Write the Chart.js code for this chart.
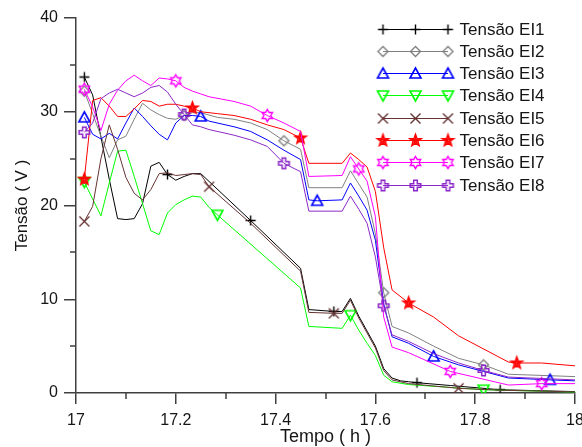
<!DOCTYPE html>
<html>
<head>
<meta charset="utf-8">
<script src="https://cdn.jsdelivr.net/npm/chart.js@4.4.1/dist/chart.umd.min.js"></script>
<style>
  html, body { margin: 0; padding: 0; background: #fff; }
  #chart { display: block; }
</style>
</head>
<body>
<canvas id="chart" width="582" height="447"></canvas>
<script>
// one reading per minute after 17:00
const minutes = [
  1, 2, 3, 4, 5, 6, 7, 8, 9, 10,
  11, 12, 13, 14, 15, 16, 17, 18, 19, 20,
  21, 22, 23, 24, 25, 26, 27, 28, 29, 30,
  31, 32, 33, 34, 35, 36, 37, 38, 39, 40,
  41, 42, 43, 44, 45, 46, 47, 48, 49, 50,
  51, 52, 53, 54, 55, 56, 57, 58, 59, 60
];

const seriesNames = [
  "Tensão EI1", "Tensão EI2", "Tensão EI3", "Tensão EI4",
  "Tensão EI5", "Tensão EI6", "Tensão EI7", "Tensão EI8"
];

// values, null = no bend there (line runs straight across)
const ei1 = [
  33.7, 31.8, 27.3, 22.8, 18.6, 18.5, 18.6, 20.2, 24.2, 24.6,
  23.3, 22.7, 23.1, 23.4, 23.4, null, null, null, null, null,
  18.4, null, null, null, null, null, 13.3, 8.9, null, null,
  8.7, 8.7, 10.1, 8.2, 6.6, 5.0, 2.6, 1.6, 1.3, 1.2,
  1.1, null, null, null, 0.8, null, null, null, null, null,
  0.35, null, null, null, null, null, null, null, null, 0.15
];
const ei2 = [
  32.2, 29.8, 27.4, 25.1, 27.0, 27.4, 29.2, 30.9, 30.2, 29.7,
  29.3, 29.2, 29.6, 29.9, 29.9, null, 29.4, null, 29.2, null,
  28.8, null, 28.1, null, 26.9, null, 26.0, 21.9, null, null,
  null, 21.9, 23.7, 22.3, 20.9, 17.0, 10.7, 7.1, null, 6.4,
  null, null, 5.0, null, null, 3.7, null, null, 3.0, null,
  null, 2.0, null, null, null, null, null, null, null, 1.75
];
const ei3 = [
  29.4, 27.6, 27.1, 27.7, 27.1, 28.8, 30.4, 29.5, 28.5, 27.6,
  27.0, 28.8, 29.6, 29.6, 29.5, 29.0, null, null, 28.4, null,
  27.9, null, 27.0, null, 25.9, null, 24.9, 20.6, 20.5, null,
  null, 20.6, 22.4, 21.0, 19.5, 16.3, 9.5, 6.0, null, 5.3,
  null, null, 3.9, null, null, 3.0, null, null, 2.3, null,
  null, 1.6, null, null, null, null, 1.4, null, null, 1.3
];
const ei4 = [
  22.5, 20.7, 18.9, 22.4, 25.8, 25.9, 23.1, 20.2, 17.3, 16.9,
  19.2, 20.1, 20.6, 21.0, 20.9, 19.8, 19.0, null, null, null,
  null, null, null, null, null, null, 11.2, 7.1, null, null,
  null, 6.9, 8.3, 6.7, 5.3, 4.0, 1.9, 1.2, null, 0.9,
  null, null, null, null, null, null, null, null, 0.35, null,
  null, null, null, null, null, null, null, null, null, 0.1
];
const ei5 = [
  18.3, 19.9, 25.0, 28.6, 26.0, 23.0, 21.3, 20.6, 21.7, 23.4,
  23.5, 23.2, 23.3, 23.4, 23.3, 22.0, null, null, null, null,
  18.1, null, null, null, null, null, 13.0, 8.6, null, null,
  8.5, 8.5, 9.9, 8.0, 6.4, 4.8, 2.4, 1.4, null, 1.0,
  null, null, null, null, null, 0.5, null, null, null, null,
  0.3, null, null, null, null, null, null, null, null, 0.12
];
const ei6 = [
  22.8, 31.2, 31.5, 30.6, 29.5, 29.5, 30.3, 31.2, 31.1, 30.6,
  30.8, 30.8, 30.6, 30.4, 30.0, null, 29.8, null, 29.6, null,
  29.2, null, 28.6, null, 28.1, null, 27.2, 24.5, null, null,
  null, 24.5, 25.6, 24.9, 24.1, 21.5, 15.5, 11.0, null, 9.6,
  null, null, 8.1, null, null, 6.1, null, null, null, null,
  null, 3.3, 3.2, null, null, 3.2, null, null, null, 2.9
];
const ei7 = [
  32.4, 30.5, 28.0, 30.8, 32.3, 33.3, 33.9, 33.3, 32.8, 33.6,
  33.5, 33.3, 32.6, 32.2, 31.9, 31.6, null, null, 31.1, null,
  30.6, null, 29.6, null, 28.8, null, 27.9, 23.1, null, null,
  null, 23.2, 25.2, 23.9, 22.6, 18.8, 8.1, 4.9, null, 4.3,
  null, null, null, null, 2.3, null, null, null, null, null,
  null, 0.85, null, null, null, 1.0, null, null, null, 1.0
];
const ei8 = [
  27.8, 28.8, 31.4, 32.0, 32.4, 32.0, 31.6, 32.0, 32.6, 32.8,
  32.1, 30.8, 29.7, 28.6, 28.4, 28.1, null, null, 27.5, null,
  27.0, null, 26.3, null, 24.5, null, 23.6, 19.4, null, null,
  null, 19.4, 21.0, 19.6, 18.1, 14.5, 9.3, 6.2, null, 5.5,
  null, null, 4.2, null, null, 3.2, null, null, 2.4, null,
  null, 1.7, null, null, null, null, null, null, null, 1.4
];

// a symbol is drawn on every n-th reading, starting with the first
const markerEvery = [10, 12, 14, 16, 15, 13, 11, 12];

const seriesValues = [ei1, ei2, ei3, ei4, ei5, ei6, ei7, ei8];
const colors = ["#000000", "#808080", "#0000ff", "#00ff00", "#663333", "#ff0000", "#ff00ff", "#8c28c8"];
const shapes = ["plus", "diamond", "triUp", "triDown", "x", "star5", "star6", "cross"];

const axisColor = "#404040";
const textColor = "#151515";
const fontFamily = '"Liberation Sans", Arial, Helvetica, sans-serif';

function starPath(g, points, outer, inner) {
  for (let k = 0; k < points * 2; k++) {
    const r = k % 2 === 0 ? outer : inner;
    const a = -Math.PI / 2 + (k * Math.PI) / points;
    const px = r * Math.cos(a);
    const py = r * Math.sin(a);
    if (k === 0) g.moveTo(px, py);
    else g.lineTo(px, py);
  }
  g.closePath();
}

// symbols drawn once into small canvases, used as point styles
function makeMarker(shape, color) {
  const c = document.createElement("canvas");
  c.width = 17;
  c.height = 17;
  const g = c.getContext("2d");
  g.translate(8.5, 8.5);
  g.strokeStyle = color;
  g.lineWidth = 1.4;
  g.lineJoin = "miter";
  g.beginPath();
  switch (shape) {
    case "plus":
      g.moveTo(-5, 0); g.lineTo(5, 0);
      g.moveTo(0, -5); g.lineTo(0, 5);
      break;
    case "diamond":
      g.moveTo(0, -5); g.lineTo(5, 0); g.lineTo(0, 5); g.lineTo(-5, 0);
      g.closePath();
      break;
    case "triUp":
      g.lineWidth = 1.6;
      g.moveTo(0, -5.5); g.lineTo(5.5, 4.5); g.lineTo(-5.5, 4.5);
      g.closePath();
      break;
    case "triDown":
      g.lineWidth = 1.6;
      g.moveTo(0, 5.5); g.lineTo(5.5, -4.5); g.lineTo(-5.5, -4.5);
      g.closePath();
      break;
    case "x":
      g.moveTo(-5, -5); g.lineTo(5, 5);
      g.moveTo(5, -5); g.lineTo(-5, 5);
      break;
    case "star5":
      starPath(g, 5, 6.2, 2.6);
      g.stroke();
      g.beginPath();
      starPath(g, 5, 2.8, 1.2);
      break;
    case "star6":
      starPath(g, 6, 6, 3.5);
      break;
    case "cross":
      g.lineWidth = 1.5;
      g.moveTo(-1.8, -5.3); g.lineTo(1.8, -5.3); g.lineTo(1.8, -1.8);
      g.lineTo(5.3, -1.8); g.lineTo(5.3, 1.8); g.lineTo(1.8, 1.8);
      g.lineTo(1.8, 5.3); g.lineTo(-1.8, 5.3); g.lineTo(-1.8, 1.8);
      g.lineTo(-5.3, 1.8); g.lineTo(-5.3, -1.8); g.lineTo(-1.8, -1.8);
      g.closePath();
      break;
  }
  g.stroke();
  return c;
}

const datasets = seriesNames.map((name, i) => {
  const every = markerEvery[i];
  return {
    label: name,
    data: minutes.map((m, k) => ({ x: 17 + m / 60, y: seriesValues[i][k] })),
    borderColor: colors[i],
    backgroundColor: colors[i],
    borderWidth: 1,
    tension: 0,
    spanGaps: true,
    pointStyle: makeMarker(shapes[i], colors[i]),
    pointRadius: (ctx) => (ctx.dataIndex % every === 0 ? 6 : 0),
    pointHoverRadius: 0,
    order: seriesNames.length - i
  };
});

// legend as in the original: a short line with three symbols, then the name
const lineLegend = {
  id: "lineLegend",
  afterDatasetsDraw(chart) {
    const { ctx, chartArea } = chart;
    ctx.save();
    chart.data.datasets.forEach((ds, i) => {
      const y = Math.round(chartArea.top + 10.5 + i * 22.3) + 0.5;
      const x0 = chartArea.right - 192;
      const x1 = chartArea.right - 127;
      ctx.strokeStyle = ds.borderColor;
      ctx.lineWidth = 1;
      ctx.beginPath();
      ctx.moveTo(x0, y);
      ctx.lineTo(x1, y);
      ctx.stroke();
      const img = ds.pointStyle;
      [x0, (x0 + x1) / 2, x1].forEach((x) => {
        ctx.drawImage(img, x - img.width / 2, y - img.height / 2);
      });
      ctx.fillStyle = textColor;
      ctx.font = "17px " + fontFamily;
      ctx.textAlign = "left";
      ctx.textBaseline = "middle";
      ctx.fillText(ds.label, chartArea.right - 115.5, y + 0.5);
    });
    ctx.restore();
  }
};

// short unlabeled ticks half way between the labeled ones
const minorTicks = {
  id: "minorTicks",
  afterDraw(chart) {
    const { ctx } = chart;
    const xs = chart.scales.x;
    const ys = chart.scales.y;
    ctx.save();
    ctx.strokeStyle = axisColor;
    ctx.lineWidth = 1.5;
    ctx.beginPath();
    for (let i = 1; i < xs.ticks.length; i++) {
      const v = (xs.ticks[i - 1].value + xs.ticks[i].value) / 2;
      const px = Math.round(xs.getPixelForValue(v));
      ctx.moveTo(px, xs.top);
      ctx.lineTo(px, xs.top + 6);
    }
    for (let i = 1; i < ys.ticks.length; i++) {
      const v = (ys.ticks[i - 1].value + ys.ticks[i].value) / 2;
      const py = Math.round(ys.getPixelForValue(v));
      ctx.moveTo(ys.right, py);
      ctx.lineTo(ys.right - 6, py);
    }
    ctx.stroke();
    ctx.restore();
  }
};

Chart.defaults.font.family = fontFamily;
Chart.defaults.color = textColor;

new Chart(document.getElementById("chart"), {
  type: "line",
  data: { datasets },
  plugins: [lineLegend, minorTicks],
  options: {
    responsive: false,
    devicePixelRatio: 1,
    animation: false,
    layout: { padding: { top: 18, right: 5, left: 0, bottom: 0 } },
    plugins: {
      legend: { display: false },
      tooltip: { enabled: false }
    },
    scales: {
      x: {
        type: "linear",
        min: 17,
        max: 18,
        border: { display: true, color: axisColor, width: 1.5 },
        grid: {
          drawOnChartArea: false,
          drawTicks: true,
          tickLength: 11,
          color: axisColor,
          lineWidth: 1.5
        },
        ticks: {
          stepSize: 0.2,
          autoSkip: false,
          maxRotation: 0,
          padding: 7,
          color: textColor,
          font: { size: 16 },
          callback: (v) => String(Math.round(v * 10) / 10)
        },
        title: {
          display: true,
          text: "Tempo ( h )",
          color: textColor,
          font: { size: 18, lineHeight: 1.1 },
          padding: { top: 0, bottom: 0 }
        },
        afterFit(scale) {
          scale.height = 54;
          scale.paddingLeft = 0;
          scale.paddingRight = 0;
        }
      },
      y: {
        min: 0,
        max: 40,
        border: { display: true, color: axisColor, width: 1.5 },
        grid: {
          drawOnChartArea: false,
          drawTicks: true,
          tickLength: 12,
          color: axisColor,
          lineWidth: 1.5
        },
        ticks: {
          stepSize: 10,
          padding: 6,
          color: textColor,
          font: { size: 16 }
        },
        title: {
          display: true,
          text: "Tensão ( V )",
          color: textColor,
          font: { size: 17 },
          padding: { top: 12, bottom: 0 }
        },
        afterFit(scale) {
          scale.width = 76;
          scale.paddingTop = 0;
          scale.paddingBottom = 0;
        }
      }
    }
  }
});
</script>
</body>
</html>
